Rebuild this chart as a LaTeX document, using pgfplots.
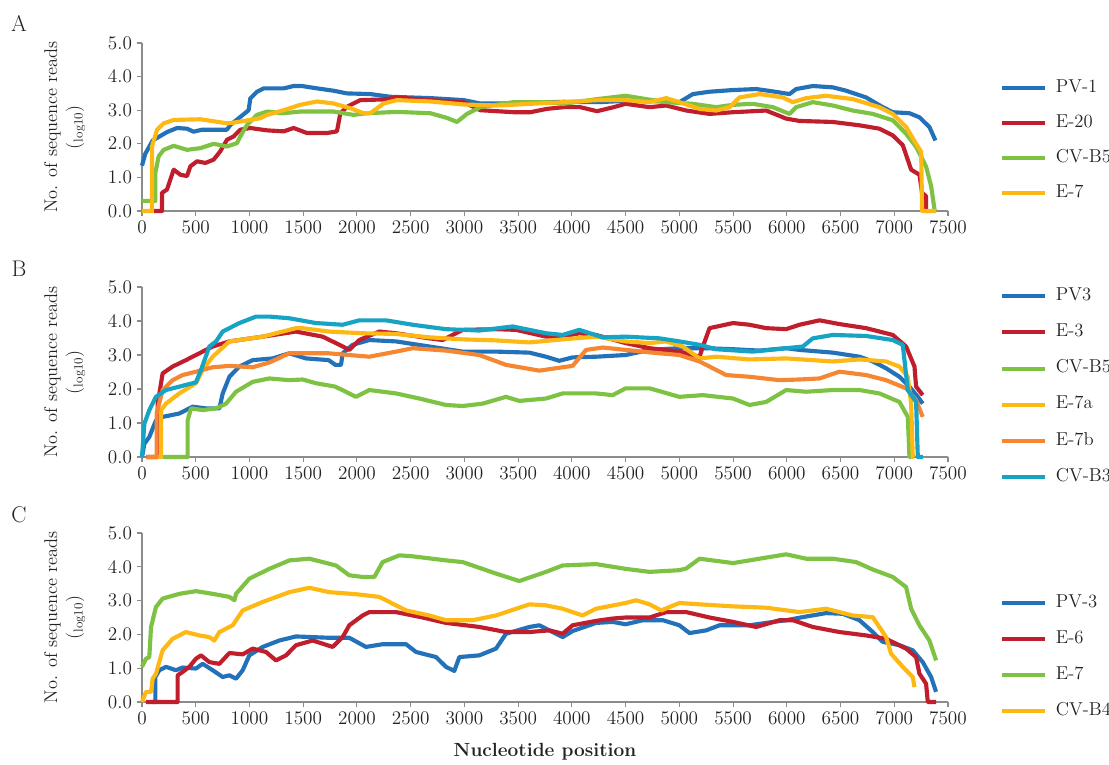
\documentclass[border=0pt]{standalone}
\usepackage{pgfplots}
\pgfplotsset{compat=1.18}
\definecolor{cBlue}{RGB}{35,114,185}
\definecolor{cRed}{RGB}{192,30,45}
\definecolor{cGreen}{RGB}{125,194,66}
\definecolor{cYellow}{RGB}{253,184,19}
\definecolor{cOrange}{RGB}{245,135,50}
\definecolor{cCyan}{RGB}{22,163,196}
\definecolor{axgray}{RGB}{140,140,140}
\definecolor{txt}{RGB}{35,35,35}
\pgfplotsset{
  panel/.style={
    scale only axis, width=604.5pt, anchor=south west,
    xmin=0, xmax=7500, ymin=0, ymax=5,
    axis lines*=left, clip=false,
    axis line style={axgray, line width=0.8pt},
    tick style={axgray, line width=0.8pt},
    tick align=outside, major tick length=4pt,
    xtick={0,500,...,7500}, ytick={0,1,...,5},
    scaled ticks=false,
    xticklabel style={/pgf/number format/1000 sep={}},
    yticklabel style={/pgf/number format/.cd,fixed,fixed zerofill,precision=1},
    ticklabel style={font=\fontsize{14}{16}\selectfont, text=txt},
    ylabel={No. of sequence reads\\(\textsubscript{log10})},
    ylabel style={align=center, at={(axis description cs:-0.096,0.5)}, anchor=center,
      font=\fontsize{13.8}{17}\selectfont, text=txt},
    every axis plot/.append style={line width=3.1pt, line join=round, mark=none},
    legend image code/.code={\draw[#1, line width=3pt] (0pt,0pt) -- (32pt,0pt);},
    legend cell align=left,
    legend style={draw=none, fill=none, inner sep=0pt, row sep=14.25pt, column sep=6.75pt,
      font=\fontsize{14}{16}\selectfont, text=txt,
      nodes={inner sep=0pt, text height=9pt, text depth=3pt}},
  }
}
\begin{document}
\begin{tikzpicture}
\useasboundingbox (0,0) rectangle (831.75pt,-573pt);
\node[font=\fontsize{17}{20}\selectfont, text=txt] at (14.25pt,-17.25pt) {A};
\node[font=\fontsize{17}{20}\selectfont, text=txt] at (14.25pt,-201.75pt) {B};
\node[font=\fontsize{17}{20}\selectfont, text=txt] at (14.25pt,-386.25pt) {C};
% ---------------- Panel A
\begin{axis}[panel, at={(106.5pt,-158.25pt)}, height=126pt,
  legend style={at={(1.0645,0.78)}, anchor=north west},
  legend entries={PV-1,E-20,CV-B5,E-7}]
\addplot[cBlue] table {
0 1.35
30 1.7
100 2.1
233 2.35
326 2.47
419 2.45
480 2.36
560 2.42
790 2.42
822 2.56
915 2.8
992 3.0
1008 3.35
1070 3.55
1132 3.65
1318 3.65
1411 3.72
1488 3.72
1628 3.65
1783 3.58
1907 3.5
2125 3.48
2310 3.4
2683 3.36
2993 3.3
3148 3.2
3303 3.2
3614 3.22
3924 3.25
4258 3.24
4500 3.28
4754 3.27
5000 3.24
5033 3.3
5126 3.48
5281 3.55
5498 3.6
5715 3.63
5870 3.56
6025 3.48
6087 3.63
6242 3.72
6428 3.68
6552 3.58
6738 3.38
6893 3.09
6986 2.94
7141 2.91
7234 2.79
7327 2.5
7383 2.1
};
\addplot[cRed] table {
110 0
186 0
186 0.54
233 0.64
264 0.94
295 1.23
357 1.08
419 1.04
450 1.33
512 1.48
590 1.43
667 1.53
729 1.78
791 2.12
853 2.22
915 2.42
1008 2.47
1163 2.4
1318 2.37
1411 2.47
1535 2.32
1721 2.32
1814 2.37
1845 2.9
1907 3.1
2031 3.3
2248 3.32
2373 3.38
2683 3.3
2993 3.24
3148 3.0
3458 2.94
3614 2.94
3769 3.04
3924 3.09
4079 3.09
4234 2.97
4389 3.09
4500 3.19
4723 3.09
4878 3.14
5064 2.99
5281 2.89
5498 2.94
5808 2.99
5994 2.75
6118 2.68
6428 2.65
6676 2.55
6862 2.45
6986 2.25
7079 1.96
7126 1.52
7157 1.23
7234 1.08
7259 0.54
7296 0.44
7296 0
7312 0
};
\addplot[cGreen] table {
0 0.3
124 0.3
124 1.13
155 1.63
202 1.82
295 1.94
419 1.82
543 1.87
667 2.0
791 1.92
884 2.02
915 2.22
977 2.56
1070 2.86
1163 2.96
1318 2.91
1473 2.96
1783 2.96
1969 2.86
2093 2.91
2373 2.95
2683 2.91
2838 2.77
2931 2.65
3024 2.89
3148 3.09
3458 3.24
3769 3.24
3924 3.19
4234 3.33
4500 3.43
4692 3.33
4878 3.24
5126 3.19
5343 3.09
5498 3.16
5684 3.19
5870 3.09
6025 2.89
6087 3.09
6242 3.24
6428 3.14
6614 2.99
6800 2.89
6986 2.7
7110 2.3
7203 1.91
7296 1.32
7343 0.74
7374 0.05
7380 0
};
\addplot[cYellow] table {
0 0
93 0
93 1.92
140 2.42
202 2.61
295 2.71
543 2.73
791 2.61
853 2.63
1101 2.76
1163 2.86
1318 3.0
1473 3.16
1628 3.26
1783 3.2
1938 3.06
2062 2.91
2124 2.91
2248 3.2
2372 3.3
2683 3.26
2993 3.17
3303 3.14
3614 3.19
3924 3.24
4234 3.3
4500 3.3
4723 3.24
4878 3.36
5000 3.24
5188 3.04
5343 2.99
5467 3.09
5560 3.38
5746 3.48
5963 3.38
6056 3.24
6180 3.36
6366 3.43
6614 3.33
6862 3.09
6986 2.89
7110 2.5
7203 2.0
7250 1.76
7259 0
7389 0
};
\end{axis}
% ---------------- Panel B
\begin{axis}[panel, at={(106.5pt,-342.75pt)}, height=127.5pt,
  legend style={at={(1.0645,0.995)}, anchor=north west, row sep=15.2pt},
  legend entries={PV3,E-3,CV-B5,E-7a,E-7b,CV-B3}]
\addplot[cBlue] table {
0 0
22 0.39
68 0.59
130 1.08
192 1.18
347 1.28
471 1.48
596 1.43
720 1.43
751 1.87
813 2.36
906 2.66
1030 2.85
1216 2.9
1371 3.05
1526 2.9
1737 2.85
1799 2.71
1852 2.71
1867 3.05
1960 3.3
2115 3.44
2364 3.4
2674 3.25
2984 3.1
3294 3.1
3604 3.07
3759 2.95
3883 2.83
4007 2.93
4225 2.95
4500 3.0
4723 3.15
5000 3.2
5250 3.2
5500 3.17
5746 3.13
5994 3.2
6118 3.15
6428 3.07
6676 2.95
6800 2.81
6924 2.61
7048 2.36
7141 2.07
7219 1.77
7265 1.57
};
\addplot[cRed] table {
40 0
146 0
146 1.57
192 2.46
285 2.66
409 2.85
533 3.05
658 3.25
813 3.4
1123 3.54
1433 3.69
1681 3.54
1837 3.3
1929 3.15
2022 3.44
2208 3.69
2364 3.64
2674 3.49
2798 3.44
2984 3.74
3294 3.76
3480 3.74
3759 3.54
3914 3.54
4069 3.64
4225 3.59
4500 3.35
4723 3.2
5000 3.1
5188 2.95
5219 3.25
5281 3.79
5500 3.94
5653 3.89
5808 3.79
5994 3.76
6118 3.89
6304 4.02
6490 3.91
6738 3.79
6986 3.59
7110 3.25
7188 2.66
7203 2.07
7265 1.82
};
\addplot[cGreen] table {
192 0
425 0
425 1.08
456 1.43
564 1.38
689 1.43
782 1.57
875 1.92
1030 2.21
1185 2.31
1371 2.26
1495 2.28
1619 2.17
1799 2.07
1991 1.77
2115 1.97
2364 1.87
2581 1.72
2829 1.53
2984 1.5
3170 1.57
3387 1.77
3511 1.65
3759 1.72
3914 1.87
4225 1.87
4380 1.82
4500 2.02
4723 2.02
5000 1.77
5219 1.82
5500 1.72
5653 1.53
5808 1.62
5994 1.97
6180 1.92
6428 1.97
6676 1.97
6862 1.87
7048 1.62
7126 1.18
7141 0
7160 0
};
\addplot[cYellow] table {
60 0
177 0
177 1.38
223 1.57
347 1.87
502 2.17
564 2.56
658 2.95
813 3.4
1123 3.54
1433 3.79
1495 3.79
1737 3.69
2053 3.64
2364 3.62
2674 3.52
2984 3.46
3294 3.43
3604 3.37
3914 3.46
4225 3.54
4500 3.4
4723 3.35
4876 3.4
5031 3.25
5188 2.9
5343 2.95
5653 2.87
5994 2.9
6428 2.81
6676 2.87
6924 2.81
7048 2.66
7126 2.36
7157 1.57
7172 0
7180 0
};
\addplot[cOrange] table {
40 0
136 0
136 1.28
192 1.97
285 2.26
378 2.41
502 2.51
658 2.64
813 2.68
1030 2.64
1185 2.78
1371 3.05
1737 3.05
2115 2.95
2364 3.1
2519 3.2
2829 3.13
3139 3.0
3387 2.71
3697 2.54
3914 2.64
4007 2.68
4132 3.15
4287 3.22
4500 3.15
4816 3.05
5000 3.0
5188 2.81
5436 2.41
5653 2.36
5932 2.26
6118 2.28
6304 2.31
6490 2.51
6738 2.41
6924 2.26
7110 2.02
7203 1.67
7265 1.18
};
\addplot[cCyan] table {
0 0
22 0.98
68 1.38
130 1.77
223 1.97
347 2.07
471 2.17
502 2.2
549 2.56
627 3.25
689 3.4
751 3.69
906 3.94
1061 4.13
1185 4.13
1371 4.08
1619 3.94
1867 3.89
2022 4.02
2270 4.02
2519 3.89
2829 3.76
3139 3.72
3449 3.84
3759 3.64
3914 3.59
4069 3.74
4287 3.52
4500 3.54
4816 3.49
5000 3.4
5188 3.3
5343 3.17
5684 3.1
5994 3.2
6149 3.25
6242 3.49
6428 3.59
6738 3.56
6986 3.44
7079 3.3
7126 1.97
7203 1.62
7219 0
7265 0
};
\end{axis}
% ---------------- Panel C
\begin{axis}[panel, at={(106.5pt,-526.5pt)}, height=126.75pt,
  legend style={at={(1.0645,0.633)}, anchor=north west, row sep=15pt},
  legend entries={PV-3,E-6,E-7,CV-B4},
  xlabel={Nucleotide position},
  xlabel style={font=\bfseries\fontsize{14.3}{16}\selectfont, text=txt,
    at={(axis description cs:0.5,0)}, anchor=center, yshift=-37.5pt}]
\addplot[cBlue] table {
100 0
124 0
124 0.74
161 0.94
223 1.04
316 0.94
378 1.02
502 0.99
564 1.13
658 0.94
751 0.74
813 0.79
875 0.69
937 0.94
999 1.38
1123 1.63
1278 1.82
1433 1.94
1743 1.9
1929 1.9
2084 1.63
2239 1.71
2457 1.71
2550 1.48
2736 1.33
2829 1.04
2906 0.92
2953 1.33
3139 1.38
3294 1.58
3387 2.02
3604 2.22
3697 2.27
3790 2.12
3914 1.92
4007 2.1
4225 2.34
4380 2.37
4500 2.3
4661 2.42
4847 2.42
5000 2.27
5095 2.04
5250 2.12
5374 2.27
5653 2.27
5808 2.34
5994 2.42
6180 2.53
6366 2.63
6521 2.61
6676 2.42
6800 2.07
6893 1.78
7048 1.68
7172 1.53
7265 1.18
7343 0.74
7389 0.3
};
\addplot[cRed] table {
37 0
332 0
332 0.79
378 0.89
440 1.04
502 1.28
549 1.38
627 1.18
720 1.13
813 1.45
937 1.41
1030 1.58
1154 1.48
1247 1.23
1340 1.38
1433 1.68
1588 1.82
1774 1.63
1867 1.92
1929 2.27
2053 2.56
2115 2.66
2364 2.66
2612 2.5
2829 2.34
3139 2.22
3387 2.07
3604 2.07
3790 2.12
3914 2.02
4007 2.27
4225 2.4
4380 2.47
4500 2.5
4723 2.5
4878 2.66
5064 2.66
5281 2.5
5500 2.37
5715 2.22
5932 2.42
6056 2.42
6242 2.22
6490 2.07
6738 1.97
6924 1.87
7110 1.58
7203 1.33
7234 0.84
7296 0.54
7312 0
7389 0
};
\addplot[cGreen] table {
0 1.04
37 1.28
68 1.33
84 2.22
130 2.81
192 3.06
347 3.2
502 3.28
658 3.2
813 3.11
860 3.01
875 3.2
999 3.65
1185 3.94
1371 4.19
1557 4.24
1805 4.04
1929 3.75
2053 3.7
2162 3.7
2239 4.14
2395 4.34
2519 4.31
2829 4.19
2984 4.14
3294 3.8
3511 3.58
3759 3.85
3914 4.04
4225 4.08
4500 3.94
4723 3.85
5000 3.9
5064 3.95
5188 4.24
5500 4.11
5746 4.24
5994 4.37
6180 4.24
6428 4.24
6645 4.14
6800 3.92
6986 3.7
7110 3.4
7157 2.76
7234 2.27
7327 1.82
7389 1.23
};
\addplot[cYellow] table {
0 0
37 0.3
84 0.3
99 0.69
130 0.84
192 1.53
285 1.87
409 2.07
533 1.97
627 1.92
673 1.82
720 2.07
844 2.27
937 2.71
1123 2.96
1371 3.25
1557 3.38
1743 3.25
1991 3.19
2208 3.11
2457 2.71
2674 2.56
2829 2.42
3077 2.42
3294 2.56
3604 2.89
3759 2.86
3914 2.76
4100 2.56
4225 2.76
4500 2.93
4599 3.01
4723 2.89
4832 2.71
5000 2.93
5188 2.89
5500 2.83
5808 2.79
6118 2.66
6366 2.76
6614 2.56
6800 2.51
6924 1.92
6970 1.43
7079 1.04
7172 0.74
7188 0.44
};
\end{axis}
\end{tikzpicture}
\end{document}
